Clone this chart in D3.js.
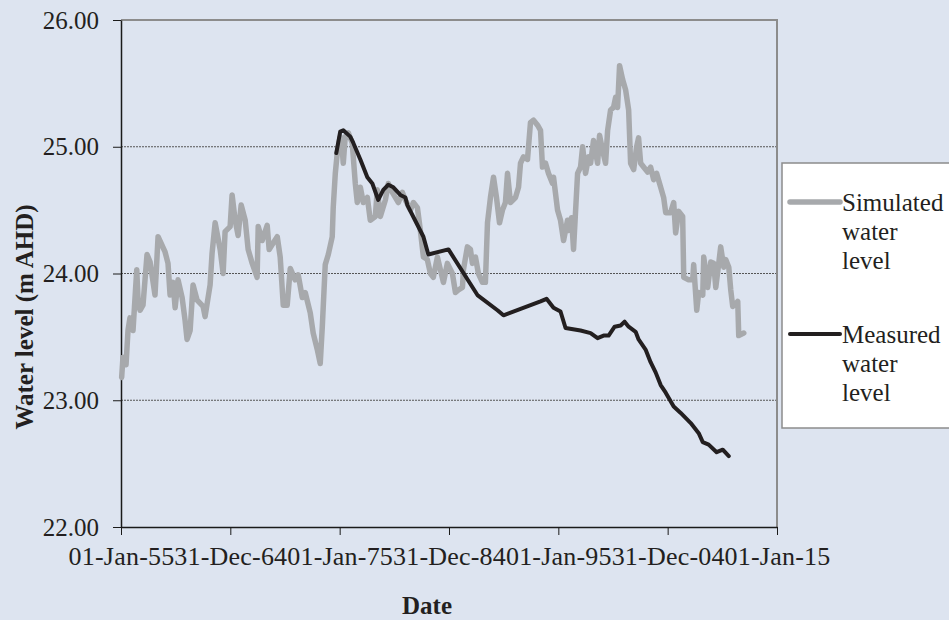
<!DOCTYPE html>
<html>
<head>
<meta charset="utf-8">
<script src="https://cdn.jsdelivr.net/npm/d3@7"></script>
<style>
  html, body { margin: 0; padding: 0; background: #dde4f0; }
  svg { display: block; font-family: "Liberation Serif", "Times New Roman", serif; }
</style>
</head>
<body>
<svg id="chart"></svg>
<script>
// Simulated water level (decimal year, m AHD)
const simYears = [1955.06, 1955.18, 1955.46, 1955.64, 1955.82, 1956.10, 1956.44, 1956.56, 1956.74, 1957.01,
  1957.38, 1957.66, 1958.11, 1958.39, 1959.03, 1959.30, 1959.49, 1959.76, 1959.95, 1960.22,
  1960.59, 1960.86, 1961.04, 1961.32, 1961.59, 1961.96, 1962.51, 1962.69, 1963.15, 1963.33,
  1963.61, 1964.07, 1964.34, 1964.52, 1964.98, 1965.16, 1965.44, 1965.71, 1965.99, 1966.36,
  1966.63, 1967.00, 1967.45, 1967.55, 1967.91, 1968.37, 1968.55, 1968.92, 1969.29, 1969.56,
  1969.84, 1970.20, 1970.48, 1970.93, 1971.21, 1971.58, 1971.85, 1972.31, 1972.58, 1972.95,
  1973.22, 1973.41, 1973.68, 1973.96, 1974.32, 1974.41, 1974.60, 1974.78, 1975.05, 1975.24,
  1975.33, 1975.51, 1975.79, 1976.15, 1976.43, 1976.61, 1976.89, 1977.16, 1977.53, 1977.80,
  1978.26, 1978.44, 1978.72, 1979.18, 1979.45, 1979.82, 1980.09, 1980.37, 1980.73, 1981.01,
  1981.47, 1981.74, 1982.11, 1982.38, 1982.66, 1983.02, 1983.30, 1983.57, 1983.94, 1984.21,
  1984.49, 1984.85, 1985.31, 1985.59, 1985.86, 1986.23, 1986.32, 1986.68, 1986.96, 1987.14,
  1987.42, 1987.69, 1988.06, 1988.33, 1988.52, 1988.79, 1989.07, 1989.34, 1989.62, 1989.89,
  1990.16, 1990.35, 1990.62, 1991.08, 1991.36, 1991.54, 1991.81, 1992.18, 1992.45, 1992.73,
  1993.10, 1993.37, 1993.55, 1993.83, 1994.10, 1994.47, 1994.56, 1994.93, 1995.20, 1995.48,
  1995.84, 1995.93, 1996.21, 1996.39, 1996.76, 1997.03, 1997.22, 1997.49, 1997.77, 1997.95,
  1998.22, 1998.59, 1998.77, 1999.05, 1999.32, 1999.51, 1999.78, 2000.05, 2000.24, 2000.42,
  2000.60, 2000.88, 2001.15, 2001.43, 2001.61, 2001.89, 2002.16, 2002.34, 2002.53, 2002.80,
  2003.17, 2003.44, 2003.72, 2003.99, 2004.36, 2004.63, 2004.82, 2005.27, 2005.55, 2005.73,
  2006.01, 2006.37, 2006.47, 2006.92, 2007.29, 2007.38, 2007.66, 2007.84, 2008.21, 2008.30,
  2008.66, 2008.94, 2009.21, 2009.40, 2009.67, 2009.85, 2010.13, 2010.31, 2010.59, 2010.77,
  2010.95, 2011.23, 2011.41, 2011.50, 2011.96];
const simLevels = [23.18, 23.34, 23.28, 23.55, 23.65, 23.55, 24.03, 23.79, 23.71, 23.75,
  24.15, 24.09, 23.83, 24.29, 24.17, 24.08, 23.83, 23.93, 23.73, 23.95,
  23.81, 23.63, 23.48, 23.55, 23.91, 23.79, 23.74, 23.66, 23.91, 24.16,
  24.40, 24.19, 24.00, 24.33, 24.37, 24.62, 24.42, 24.30, 24.54, 24.42,
  24.19, 24.08, 23.97, 24.37, 24.26, 24.38, 24.19, 24.24, 24.29, 24.13,
  23.75, 23.75, 24.04, 23.95, 23.99, 23.81, 23.85, 23.69, 23.53, 23.40,
  23.29, 23.58, 24.07, 24.15, 24.29, 24.52, 24.79, 24.95, 25.08, 24.97,
  24.87, 25.08, 25.11, 25.03, 24.71, 24.56, 24.68, 24.56, 24.60, 24.42,
  24.45, 24.66, 24.45, 24.58, 24.71, 24.64, 24.60, 24.56, 24.64, 24.58,
  24.50, 24.56, 24.52, 24.34, 24.13, 24.11, 24.00, 23.97, 24.13, 24.03,
  23.93, 24.08, 24.00, 23.85, 23.87, 23.89, 24.03, 24.21, 24.19, 24.08,
  24.13, 24.00, 23.93, 23.93, 24.40, 24.60, 24.76, 24.60, 24.40, 24.50,
  24.56, 24.79, 24.56, 24.60, 24.68, 24.87, 24.92, 24.90, 25.19, 25.21,
  25.17, 25.13, 24.84, 24.87, 24.79, 24.71, 24.76, 24.50, 24.42, 24.26,
  24.42, 24.34, 24.44, 24.19, 24.79, 24.84, 25.00, 24.79, 24.92, 24.87,
  25.05, 24.87, 25.09, 24.97, 24.87, 25.13, 25.29, 25.31, 25.39, 25.31,
  25.64, 25.53, 25.45, 25.29, 24.87, 24.82, 25.00, 25.07, 24.87, 24.84,
  24.80, 24.84, 24.74, 24.79, 24.68, 24.60, 24.48, 24.48, 24.56, 24.32,
  24.49, 24.45, 23.97, 23.95, 23.95, 24.07, 23.71, 23.85, 23.83, 24.13,
  23.89, 24.09, 24.08, 23.89, 24.08, 24.21, 24.05, 24.11, 24.05, 23.87,
  23.74, 23.76, 23.78, 23.51, 23.53];

// Measured water level (decimal year, m AHD)
const measYears = [1974.69, 1975.05, 1975.33, 1975.97, 1976.25, 1976.89, 1977.53, 1977.99, 1978.53, 1978.99,
  1979.45, 1979.91, 1980.55, 1981.01, 1981.19, 1982.66, 1983.11, 1984.95, 1987.60, 1989.43,
  1989.98, 1993.37, 1993.92, 1994.56, 1995.20, 1995.66, 1997.03, 1997.95, 1998.59, 1999.14,
  1999.60, 2000.15, 2000.70, 2001.06, 2001.43, 2002.07, 2002.34, 2002.98, 2003.44, 2003.90,
  2004.36, 2004.82, 2005.55, 2006.19, 2007.11, 2007.84, 2008.21, 2008.75, 2009.48, 2010.04,
  2010.59];
const measLevels = [24.95, 25.12, 25.13, 25.08, 25.03, 24.90, 24.76, 24.71, 24.58, 24.66,
  24.70, 24.68, 24.62, 24.60, 24.54, 24.29, 24.15, 24.19, 23.83, 23.71,
  23.67, 23.78, 23.80, 23.73, 23.70, 23.57, 23.55, 23.53, 23.49, 23.51,
  23.51, 23.58, 23.59, 23.62, 23.58, 23.54, 23.48, 23.40, 23.30, 23.22,
  23.12, 23.06, 22.95, 22.90, 22.82, 22.74, 22.67, 22.65, 22.59, 22.61,
  22.56];

const xTickDates = ["1955-01-01", "1964-12-31", "1975-01-01", "1984-12-31", "1995-01-01", "2004-12-31", "2015-01-01"];
const yTicks = [22, 23, 24, 25, 26];
const gridLevels = [23, 24, 25];
const legendLabels = [["Simulated", "water", "level"], ["Measured", "water", "level"]];

const width = 949;
const height = 620;
const margin = { top: 20, right: 172, bottom: 93, left: 121 };
const serif = "'Liberation Serif', 'Times New Roman', serif";

const svg = d3.select("#chart").attr("width", width).attr("height", height);
svg.append("rect").attr("width", width).attr("height", height).attr("fill", "#dde4f0");

// decimal year -> Date
function toDate(y) {
  const yr = Math.floor(y);
  const start = new Date(yr, 0, 1), end = new Date(yr + 1, 0, 1);
  return new Date(start.getTime() + (y - yr) * (end - start));
}
const parse = d3.timeParse("%Y-%m-%d");

const x = d3.scaleTime()
  .domain([parse("1955-01-01"), parse("2015-01-01")])
  .range([margin.left, width - margin.right]);
const y = d3.scaleLinear()
  .domain([22, 26])
  .range([height - margin.bottom, margin.top]);

// dotted gridlines
svg.append("g").selectAll("line")
  .data(gridLevels)
  .join("line")
  .attr("x1", x.range()[0]).attr("x2", x.range()[1])
  .attr("y1", d => y(d)).attr("y2", d => y(d))
  .attr("stroke", "#555").attr("stroke-width", 1)
  .attr("stroke-dasharray", "2,1");

// top and right frame
svg.append("path")
  .attr("d", `M${x.range()[0]},${y(26)}H${x.range()[1]}V${y(22)}`)
  .attr("fill", "none").attr("stroke", "#8c8c8c").attr("stroke-width", 2);

// axes
const yAxis = svg.append("g")
  .attr("transform", `translate(${margin.left},0)`)
  .call(d3.axisLeft(y).tickValues(yTicks).tickFormat(d3.format(".2f")).tickSize(8).tickPadding(14).tickSizeOuter(0));
const xAxis = svg.append("g")
  .attr("transform", `translate(0,${height - margin.bottom})`)
  .call(d3.axisBottom(x).tickValues(xTickDates.map(parse)).tickFormat(d3.timeFormat("%d-%b-%y")).tickSize(8).tickPadding(12).tickSizeOuter(0));

[yAxis, xAxis].forEach(a => {
  a.attr("font-family", serif);
  a.select(".domain").attr("stroke", "#1a1a1a").attr("stroke-width", 1.5);
  a.selectAll(".tick line").attr("stroke", "#1a1a1a");
  a.selectAll("text")
    .attr("font-size", 25)
    .attr("fill", "#231f20");
});
xAxis.selectAll("text").attr("font-size", 26).attr("letter-spacing", 0.2);

// lines
const line = d3.line().x(d => x(d[0])).y(d => y(d[1]));
const simData = simYears.map((yr, i) => [toDate(yr), simLevels[i]]);
const measData = measYears.map((yr, i) => [toDate(yr), measLevels[i]]);

svg.append("path")
  .datum(simData)
  .attr("d", line)
  .attr("fill", "none")
  .attr("stroke", "#a7a9ac")
  .attr("stroke-width", 5.5)
  .attr("stroke-linejoin", "round")
  .attr("stroke-linecap", "round");

svg.append("path")
  .datum(measData)
  .attr("d", line)
  .attr("fill", "none")
  .attr("stroke", "#231f20")
  .attr("stroke-width", 4)
  .attr("stroke-linejoin", "round")
  .attr("stroke-linecap", "round");

// axis titles
svg.append("text")
  .attr("transform", "translate(33,317) rotate(-90)")
  .attr("text-anchor", "middle")
  .attr("font-family", serif)
  .attr("font-size", 25)
  .attr("font-weight", "bold")
  .attr("fill", "#231f20")
  .text("Water level (m AHD)");

svg.append("text")
  .attr("x", 427)
  .attr("y", 614)
  .attr("text-anchor", "middle")
  .attr("font-family", serif)
  .attr("font-size", 25)
  .attr("font-weight", "bold")
  .attr("fill", "#231f20")
  .text("Date");

// legend
const legend = svg.append("g").attr("font-family", serif);
legend.append("rect")
  .attr("x", 782).attr("y", 163)
  .attr("width", 200).attr("height", 265)
  .attr("fill", "#fff").attr("stroke", "#8c8c8c").attr("stroke-width", 1.5);

const legendColors = ["#a7a9ac", "#231f20"];
const legendWidths = [5.5, 4];
const legendTop = [202, 334];
legendLabels.forEach((lines, i) => {
  legend.append("line")
    .attr("x1", 790).attr("x2", 840)
    .attr("y1", legendTop[i]).attr("y2", legendTop[i])
    .attr("stroke", legendColors[i]).attr("stroke-width", legendWidths[i])
    .attr("stroke-linecap", "round");
  const t = legend.append("text")
    .attr("x", 842).attr("y", legendTop[i] + 9)
    .attr("font-size", 25).attr("fill", "#231f20");
  lines.forEach((s, j) => {
    t.append("tspan").attr("x", 842).attr("dy", j === 0 ? 0 : 29).text(s);
  });
});
</script>
</body>
</html>
